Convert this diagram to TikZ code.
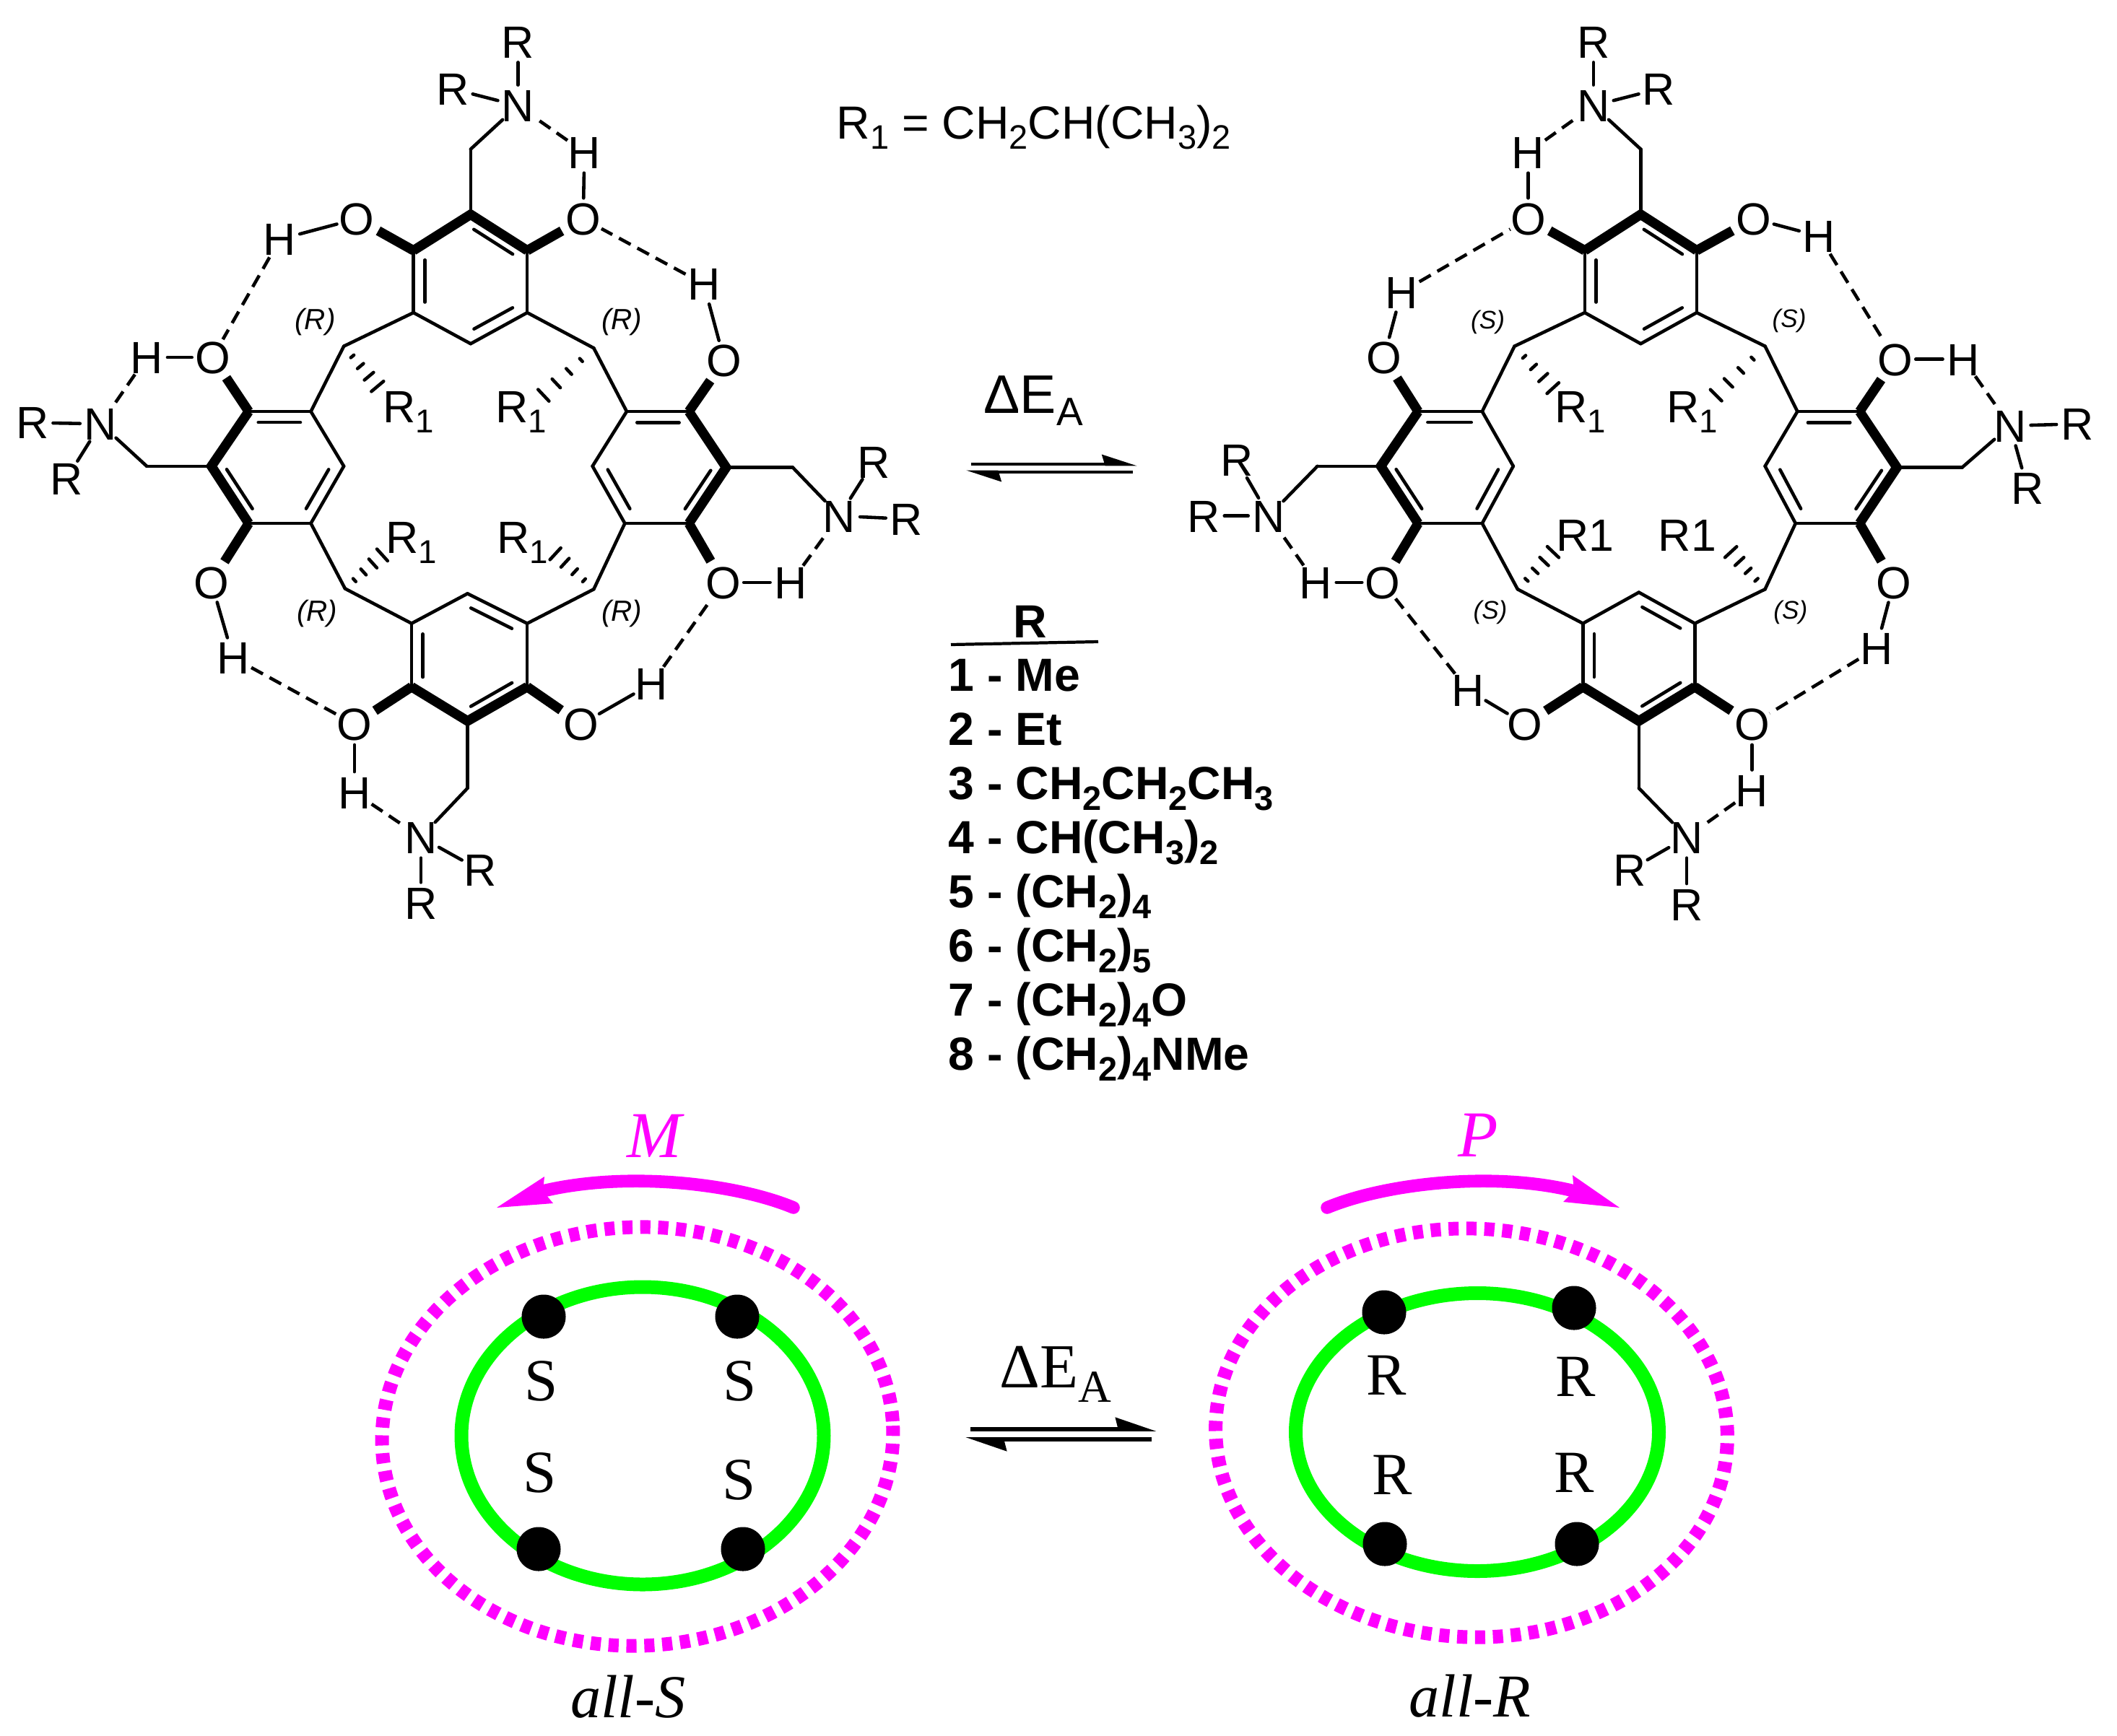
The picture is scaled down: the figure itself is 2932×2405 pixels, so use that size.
\documentclass[tikz,border=0pt]{standalone}
\usepackage{fontspec}
\setmainfont{Liberation Sans}
\newfontfamily\romanfont{Liberation Serif}
\usetikzlibrary{calc,arrows.meta}
\definecolor{ringgreen}{RGB}{0,255,0}
\definecolor{helixmag}{RGB}{255,0,255}
\newcommand\subs[1]{\raisebox{-.23em}[0pt][0pt]{\scalebox{.73}{#1}}}
\newcommand\atomtext[1]{\raisebox{-.358em}[0pt][0pt]{\makebox[0pt]{#1}}}
\newcommand\hashbond[2]{\foreach \tk in {.24,.47,.71,.95}{%
  \draw[hashline] ($(#1)!\tk!(#2)!{\tk*3.3pt}!90:(#2)$) -- ($(#1)!\tk!(#2)!{\tk*3.3pt}!-90:(#2)$);}}
\tikzset{
  atom/.style={circle,inner sep=0pt,minimum size=.56cm,font=\fontsize{17.8}{19}\selectfont},
  label1/.style={inner sep=0pt,font=\fontsize{17.8}{19}\selectfont},
  chiralR/.style={inner sep=0pt,font=\fontsize{11.5}{13}\selectfont\itshape},
  chiralS/.style={inner sep=0pt,font=\fontsize{10}{12}\selectfont\itshape},
  listitem/.style={inner sep=0pt,anchor=base west,font=\fontsize{18.3}{20}\selectfont\bfseries},
  stereo/.style={inner sep=0pt,font=\fontsize{23.6}{26}\romanfont},
  helix/.style={inner sep=0pt,text=helixmag,font=\fontsize{25.8}{28}\romanfont\itshape},
  allname/.style={inner sep=0pt,anchor=base,font=\fontsize{24}{26}\romanfont\itshape},
  bondline/.style={line width=1.3pt,line cap=round},
  wedgeline/.style={line width=3.8pt,line join=miter},
  hbond/.style={line width=1.3pt,dash pattern=on 5.2pt off 3pt},
  hashline/.style={line width=1.3pt,line cap=round},
  dot/.style={circle,fill=black,inner sep=0pt,minimum size=.61cm},
  dotring/.style={helixmag,line width=5.4pt,dash pattern=on 4pt off 3.05pt},
  greenring/.style={ringgreen,line width=5.4pt},
  helixshaft/.style={helixmag,line width=5pt,line cap=round},
  eqsmall/.style={line width=1.35pt,-{Stealth[harpoon,length=11.7pt,width=7.4pt,inset=1pt]}},
  eqlarge/.style={line width=1.65pt,-{Stealth[harpoon,length=13.7pt,width=9.1pt,inset=1pt]}}
}
\begin{document}
\begin{tikzpicture}[x=.01cm,y=-.01cm]
  \useasboundingbox (0,0) rectangle (2932,2405);
  % Esqueleto de carbono, molecula izquierda
  \begin{scope}[x=.008613cm,y=-.008613cm]
    \foreach \n/\x/\y in {t1/757/345,t2/848/403,t3/848/503,t4/757/553,t5/665/503,t6/665/403,
      l1/400/662,l2/500/662,l3/553/750,l4/500/842,l5/400/842,l6/340/750,
      r1/1008/662,r2/1108/662,r3/1168/752,r4/1108/842,r5/1005/842,r6/953/750,
      b1/752/955,b2/848/1003,b3/848/1105,b4/752/1160,b5/662/1105,b6/662/1003,
      q1/553/557,q2/955/560,q3/555/947,q4/955/948,
      ct/757/240,cl/236/750,cr/1275/752,cb/752/1268,
      h1/610/625,h2/870/640,h3/618/890,h4/890/888}
      \coordinate (A\n) at (\x,\y);
    % Atomos
    \foreach \lab/\n/\x/\y in {O/Ot1/574/352,O/Ot2/938/352,O/Ol1/342/575,O/Ol2/340/937,
      O/Or1/1165/580,O/Or2/1163/937,O/Ob1/570/1165,O/Ob2/935/1165,
      H/H1/450/385,H/H2/236/575,H/H3/375/1058,H/H4/570/1275,
      H/H5/1048/1100,H/H6/1272/937,H/H7/1132/457,H/H8/940/245,
      N/Nt/833/170,N/Nl/162/682,N/Nr/1350/830,N/Nb/677/1347,
      R/Rt1/833/67,R/Rt2/728/143,R/Rl1/52/680,R/Rl2/107/770,
      R/Rr1/1458/835,R/Rr2/1405/743,R/Rb1/772/1400,R/Rb2/677/1453}
      \node[atom] (A\n) at (\x,\y) {\atomtext{\lab}};
    \node[label1] (AQ1) at (657,655) {R\subs{1}};
    \node[label1] (AQ2) at (838,655) {R\subs{1}};
    \node[label1] (AQ3) at (662,865) {R\subs{1}};
    \node[label1] (AQ4) at (840,865) {R\subs{1}};
    \foreach \n/\x/\y in {1/507/518,2/1000/518,3/510/987,4/1000/987}
      \node[chiralR] (Asr\n) at (\x,\y) {(R)};
    % Puentes de hidrogeno
    \foreach \ca/\cb in {Ot1/H1,Ol1/H2,Ol2/H3,Ob1/H4,Ob2/H5,Or2/H6,Or1/H7,Ot2/H8}
      \draw[bondline] (A\ca) -- (A\cb);
    \foreach \ca/\cb in {H1/Ol1,H2/Nl,H3/Ob1,H4/Nb,H5/Or2,H6/Nr,H7/Ot2,H8/Nt}
      \draw[hbond] (A\ca) -- (A\cb);
  \end{scope}
  % Esqueleto de carbono, molecula derecha
  \begin{scope}[x=.008613cm,y=-.008613cm,shift={(15.8cm,0)}]
    \foreach \n/\x/\y in {t1/803/345,t2/893/403,t3/893/503,t4/803/553,t5/713/503,t6/713/403,
      l1/445/662,l2/548/662,l3/598/750,l4/548/842,l5/445/842,l6/385/750,
      r1/1055/662,r2/1155/662,r3/1215/752,r4/1155/842,r5/1052/842,r6/1003/750,
      b1/800/953,b2/890/1003,b3/890/1105,b4/800/1160,b5/710/1105,b6/710/1003,
      q1/600/557,q2/1003/557,q3/605/948,q4/1003/948,
      ct/803/240,cl/283/750,cr/1320/752,cb/800/1268,
      h1/665/628,h2/920/640,h3/665/885,h4/945/885}
      \coordinate (B\n) at (\x,\y);
    % Atomos
    \foreach \lab/\n/\x/\y in {O/Ot1/622/352,O/Ot2/985/352,O/Ol1/390/575,O/Ol2/388/937,
      O/Or1/1212/578,O/Or2/1210/937,O/Ob1/617/1165,O/Ob2/982/1165,
      H/H1/622/245,H/H2/418/470,H/H3/280/937,H/H4/525/1110,
      H/H5/982/1272,H/H6/1182/1043,H/H7/1322/578,H/H8/1090/380,
      N/Nt/727/170,N/Nl/205/830,N/Nr/1397/685,N/Nb/877/1347,
      R/Rt1/727/67,R/Rt2/832/143,R/Rl1/100/830,R/Rl2/153/740,
      R/Rr1/1505/682,R/Rr2/1425/785,R/Rb1/785/1400,R/Rb2/877/1455}
      \node[atom] (B\n) at (\x,\y) {\atomtext{\lab}};
    \node[label1] (BQ1) at (706,655) {R\subs{1}};
    \node[label1] (BQ2) at (886,655) {R\subs{1}};
    \node[label1] (BQ3) at (714,862) {R1};
    \node[label1] (BQ4) at (878,862) {R1};
    \foreach \n/\x/\y in {1/557/518,2/1042/516,3/561/985,4/1044/985}
      \node[chiralS] (Bsr\n) at (\x,\y) {(S)};
    % Puentes de hidrogeno
    \foreach \ca/\cb in {Ot1/H1,Ol1/H2,Ol2/H3,Ob1/H4,Ob2/H5,Or2/H6,Or1/H7,Ot2/H8}
      \draw[bondline] (B\ca) -- (B\cb);
    \foreach \ca/\cb in {H1/Nt,H2/Ot1,H3/Nl,H4/Ol2,H5/Nb,H6/Ob2,H7/Nr,H8/Or1}
      \draw[hbond] (B\ca) -- (B\cb);
  \end{scope}
  % Enlaces comunes a las dos moleculas
  \foreach \m in {A,B}{
    \foreach \ca/\cb in {t2/t3,t3/t4,t4/t5,t5/t6,l1/l2,l2/l3,l3/l4,l4/l5,
      r6/r1,r1/r2,r4/r5,r5/r6,b5/b6,b6/b1,b1/b2,b2/b3,
      t5/q1,q1/l2,t3/q2,q2/r1,l4/q3,q3/b6,r5/q4,q4/b2,
      t1/ct,ct/Nt,l6/cl,cl/Nl,r3/cr,cr/Nr,b4/cb,cb/Nb,
      Nt/Rt1,Nt/Rt2,Nl/Rl1,Nl/Rl2,Nr/Rr1,Nr/Rr2,Nb/Rb1,Nb/Rb2}
      \draw[bondline] (\m\ca) -- (\m\cb);
    \foreach \ca/\cb/\cc in {t6/t1/t2,l5/l6/l1,r2/r3/r4,b3/b4/b5}
      \draw[wedgeline] (\m\ca) -- (\m\cb) -- (\m\cc);
    \foreach \ca/\cb in {t6/Ot1,t2/Ot2,l1/Ol1,l5/Ol2,r2/Or1,r4/Or2,b5/Ob1,b3/Ob2}
      \draw[wedgeline,shorten >=1.5pt] (\m\ca) -- (\m\cb);
    % Doble enlace interior
    \foreach \ca/\cb/\cc/\cd in {t5/t6/t1/t4,t1/t2/t1/t4,t3/t4/t1/t4,
      l1/l2/l3/l6,l3/l4/l3/l6,l5/l6/l3/l6,
      r1/r2/r3/r6,r3/r4/r3/r6,r5/r6/r3/r6,
      b5/b6/b1/b4,b1/b2/b1/b4,b3/b4/b1/b4}{
      \coordinate (ringc) at ($(\m\cc)!.5!(\m\cd)$);
      \draw[bondline,shorten <=1.5pt,shorten >=1.5pt]
        ($(\m\ca)!.2!(ringc)$) -- ($(\m\cb)!.2!(ringc)$);
    }
    % Enlaces punteados
    \foreach \i/\j in {q1/h1,q2/h2,q3/h3,q4/h4}{
      \hashbond{\m\i}{\m\j}
    }
  }
  % Centro
  \node[inner sep=0pt,anchor=base west,font=\fontsize{18.3}{20}\selectfont] (formula) at (1158,192)
    {R\subs{1} = CH\subs{2}CH(CH\subs{3})\subs{2}};
  \node[inner sep=0pt,anchor=base west,font=\fontsize{21.4}{24}\selectfont] (deltaup) at (1362,572)
    {\symbol{"0394}E\subs{A}};
  \coordinate (eqa1) at (1345,643);
  \coordinate (eqa2) at (1575,643);
  \coordinate (eqa3) at (1569,654);
  \coordinate (eqa4) at (1338,654);
  \draw[eqsmall] (eqa1) -- (eqa2);
  \draw[eqsmall] (eqa3) -- (eqa4);
  \node[listitem,anchor=base] (listhead) at (1427,883) {R};
  \coordinate (rulea) at (1317,893);
  \coordinate (ruleb) at (1521,889);
  \draw[line width=1.2pt] (rulea) -- (ruleb);
  \foreach \i/\txt in {1/Me,2/Et,3/{CH\subs{2}CH\subs{2}CH\subs{3}},4/{CH(CH\subs{3})\subs{2}},
    5/{(CH\subs{2})\subs{4}},6/{(CH\subs{2})\subs{5}},7/{(CH\subs{2})\subs{4}O},8/{(CH\subs{2})\subs{4}NMe}}
    \node[listitem] (item\i) at (1313,{883+74.9*\i}) {\i{} - \txt};
  % Esquema inferior izquierdo
  \draw[dotring] (883,1990) ellipse [x radius=354,y radius=290,rotate=2.4];
  \draw[greenring] (890,1989) ellipse [x radius=251,y radius=206];
  \foreach \n/\x/\y in {1/753/1824,2/1021/1824,3/746/2146,4/1029/2146}
    \node[dot] (sdot\n) at (\x,\y) {};
  \foreach \n/\x/\y in {1/750/1913,2/1025/1913,3/748/2040,4/1024/2050}
    \node[stereo] (slab\n) at (\x,\y) {S};
  \coordinate (marca) at (1099,1673);
  \coordinate (marcb) at (752,1650);
  \draw[helixshaft] (marca) .. controls (1020,1640) and (870,1622) .. (marcb);
  \fill[helixmag] (688,1673) -- (754,1630) -- (marcb) -- (766,1667) -- cycle;
  \node[helix] (Mlab) at (906,1574) {M};
  \node[allname] (allS) at (870,2379) {all-S};
  % Esquema inferior derecho
  \draw[dotring] (2038,1985) ellipse [x radius=354.5,y radius=283,rotate=-2.5];
  \draw[greenring] (2046,1984) ellipse [x radius=251.5,y radius=192.5];
  \foreach \n/\x/\y in {1/1917/1818,2/2180/1812,3/1918/2139,4/2184/2139}
    \node[dot] (rdot\n) at (\x,\y) {};
  \foreach \n/\x/\y in {1/1920/1905,2/2182/1907,3/1928/2043,4/2180/2040}
    \node[stereo] (rlab\n) at (\x,\y) {R};
  \coordinate (parca) at (1838,1673);
  \coordinate (parcb) at (2180,1650);
  \draw[helixshaft] (parca) .. controls (1917,1640) and (2067,1622) .. (parcb);
  \fill[helixmag] (2243,1673) -- (2178,1628) -- (parcb) -- (2165,1665) -- cycle;
  \node[helix] (Plab) at (2047,1573) {P};
  \node[allname] (allR) at (2036,2378) {all-R};
  % Equilibrio inferior
  \node[inner sep=0pt,anchor=base west,font=\fontsize{24.7}{27}\romanfont] (deltalow) at (1384,1922)
    {\symbol{"0394}E\subs{A}};
  \coordinate (eqb1) at (1344,1980);
  \coordinate (eqb2) at (1602,1980);
  \coordinate (eqb3) at (1595,1994);
  \coordinate (eqb4) at (1337,1994);
  \draw[eqlarge] (eqb1) -- (eqb2);
  \draw[eqlarge] (eqb3) -- (eqb4);
\end{tikzpicture}
\end{document}
